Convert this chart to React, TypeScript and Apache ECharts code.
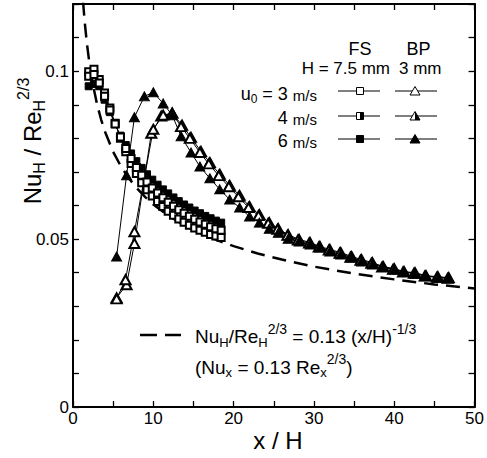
import React, { useEffect, useRef } from 'react';
import * as echarts from 'echarts';

// ---------- data ----------
const fsX = [1.95, 2.61, 3.27, 3.93, 4.59, 5.25, 5.91, 6.57, 7.23, 7.89, 8.55, 9.21, 9.87, 10.53, 11.19, 11.85, 12.51, 13.17, 13.83, 14.49, 15.15, 15.81, 16.47, 17.13, 17.79, 18.45];
const fs3Y = [0.0998, 0.1006, 0.0975, 0.0935, 0.089, 0.0845, 0.08, 0.076, 0.0725, 0.0695, 0.0668, 0.0647, 0.0628, 0.0612, 0.0597, 0.0583, 0.0571, 0.056, 0.055, 0.0541, 0.0533, 0.0526, 0.052, 0.0514, 0.0509, 0.0505];
const fs4Y = [0.0985, 0.099, 0.0965, 0.0925, 0.0884, 0.0843, 0.0804, 0.077, 0.074, 0.0713, 0.069, 0.067, 0.0652, 0.0637, 0.0623, 0.061, 0.0598, 0.0587, 0.0577, 0.0568, 0.0559, 0.0551, 0.0544, 0.0537, 0.0531, 0.0526];
const fs6Y = [0.0955, 0.0962, 0.0955, 0.0915, 0.0878, 0.0842, 0.0808, 0.078, 0.0755, 0.0732, 0.0712, 0.0693, 0.0677, 0.0662, 0.0648, 0.0636, 0.0624, 0.0613, 0.0603, 0.0594, 0.0585, 0.0577, 0.0569, 0.0562, 0.0555, 0.0549];

const bp3X = [5.43, 6.67, 7.65, 9.75, 10.99, 12.35, 13.58, 14.69, 15.93, 17.04, 18.27, 19.51, 20.74, 21.98, 23.21, 24.44, 25.56, 26.79, 28.15, 29.51, 30.74, 31.98, 33.33, 34.69, 35.93, 37.28, 38.64, 40.0, 41.23, 42.59, 43.95, 45.43, 46.79];
const bp3Y = [0.0325, 0.0364, 0.0487, 0.0815, 0.0866, 0.0875, 0.0839, 0.0803, 0.0761, 0.0728, 0.0693, 0.066, 0.063, 0.0597, 0.0573, 0.0549, 0.0531, 0.0513, 0.0499, 0.049, 0.0478, 0.0469, 0.046, 0.0448, 0.0439, 0.043, 0.0418, 0.0412, 0.0403, 0.04, 0.0391, 0.0388, 0.0385];

const bp4X = [5.43, 6.54, 7.65, 10.0, 11.23, 12.35, 13.45, 14.55, 15.8, 16.9, 18.15, 19.4, 20.6, 21.85, 23.1, 24.3, 25.45, 26.7, 28.0, 29.4, 30.6, 31.85, 33.2, 34.55, 35.8, 37.15, 38.5, 39.85, 41.1, 42.45, 43.8, 45.3, 46.65];
const bp4Y = [0.0322, 0.0379, 0.0522, 0.0827, 0.0869, 0.0875, 0.0835, 0.08, 0.0758, 0.0724, 0.0689, 0.0656, 0.0626, 0.0594, 0.057, 0.0547, 0.0529, 0.0511, 0.0497, 0.0488, 0.0476, 0.0467, 0.0458, 0.0446, 0.0437, 0.0428, 0.0417, 0.041, 0.0402, 0.0398, 0.039, 0.0386, 0.0383];

const bp6X = [5.43, 6.67, 7.65, 8.89, 10.0, 11.23, 12.35, 13.46, 14.69, 15.8, 17.04, 18.27, 19.51, 20.74, 21.98, 23.21, 24.44, 25.56, 26.79, 28.15, 29.51, 30.74, 31.98, 33.33, 34.69, 35.93, 37.28, 38.64, 40.0, 41.23, 42.59, 43.95, 45.43, 46.79];
const bp6Y = [0.0448, 0.069, 0.0863, 0.0925, 0.0937, 0.0904, 0.0869, 0.0806, 0.0758, 0.0716, 0.0681, 0.0648, 0.0618, 0.0594, 0.0567, 0.0549, 0.0531, 0.0519, 0.0501, 0.0493, 0.0484, 0.0475, 0.0463, 0.0454, 0.0445, 0.0433, 0.0424, 0.0418, 0.0409, 0.0403, 0.0397, 0.0391, 0.0385, 0.0385];

const fitX = [1.25, 1.5, 1.75, 2, 2.5, 3, 3.5, 4, 5, 6, 7, 8, 9, 10, 12, 14, 16, 18, 20, 23, 26, 30, 35, 40, 45, 50];
const fitY = [0.1207, 0.1136, 0.1079, 0.1032, 0.0958, 0.0901, 0.0856, 0.0819, 0.076, 0.0715, 0.068, 0.065, 0.0625, 0.0603, 0.0568, 0.0539, 0.0516, 0.0496, 0.0479, 0.0457, 0.0439, 0.0418, 0.0397, 0.038, 0.0365, 0.0353];

const xTickLabels: Record<number, string> = { 0: '0', 10: '10', 20: '20', 30: '30', 40: '40', 50: '50' };
const yTickLabels: Record<number, string> = { 0: '0', 5: '0.05', 10: '0.1' };

// ---------- helpers ----------
const FONT = '"Liberation Sans", Arial, Helvetica, sans-serif';
const pairs = (xs: number[], ys: number[]) => xs.map((x, i) => [x, ys[i]]);
const HALF_RECT = 'path://M0 0 L0 10 L0 0 Z M5 0 L10 0 L10 10 L5 10 Z';
const HALF_TRI = 'path://M0 10 L5 0 L0 10 Z M5 0 L10 10 L5 10 Z';
const SQ = 7;
const TRI: [number, number] = [10, 9];

function lineSeries(data: number[][], symbol: string, size: any) {
  return {
    type: 'line',
    data,
    symbol,
    symbolSize: size,
    showAllSymbol: true,
    lineStyle: { color: '#000', width: 1 },
    itemStyle: { color: '#000', borderColor: '#000', borderWidth: 1 },
    emphasis: { disabled: true },
    silent: true,
  };
}
function overlay(data: number[][], symbol: string, size: any) {
  return {
    type: 'scatter',
    data,
    symbol,
    symbolSize: size,
    itemStyle: { color: '#000', borderWidth: 0 },
    emphasis: { disabled: true },
    silent: true,
  };
}

function rt(size: number, extra: any = {}) {
  return { fontSize: size, fontFamily: FONT, fill: '#000', verticalAlign: 'middle', ...extra };
}

function textEl(x: number, y: number, text: string, size: number, align: string, rich?: any, rotation = 0) {
  return {
    type: 'text',
    x,
    y,
    rotation,
    silent: true,
    z: 100,
    style: {
      text,
      fontSize: size,
      fontFamily: FONT,
      fill: '#000',
      align,
      verticalAlign: 'middle',
      textAlign: align,
      textVerticalAlign: 'middle',
      rich,
    },
  };
}

function legendGraphics() {
  const els: any[] = [];
  const rows = [91, 116, 139];
  const fsC = 360;
  const bpC = 415;
  rows.forEach((y, i) => {
    els.push({ type: 'line', shape: { x1: 338, y1: y, x2: 380, y2: y }, style: { stroke: '#000', lineWidth: 1 }, z: 100, silent: true });
    els.push({ type: 'line', shape: { x1: 395, y1: y, x2: 437, y2: y }, style: { stroke: '#000', lineWidth: 1 }, z: 100, silent: true });
    els.push({
      type: 'rect',
      shape: { x: fsC - SQ / 2, y: y - SQ / 2, width: SQ, height: SQ },
      style: { fill: i === 2 ? '#000' : '#fff', stroke: '#000', lineWidth: 1 },
      z: 101,
      silent: true,
    });
    if (i === 1) {
      els.push({ type: 'rect', shape: { x: fsC, y: y - SQ / 2, width: SQ / 2, height: SQ }, style: { fill: '#000' }, z: 102, silent: true });
    }
    const top = y - 4.5;
    const bot = y + 4;
    els.push({
      type: 'polygon',
      shape: { points: [[bpC, top], [bpC + 5, bot], [bpC - 5, bot]] },
      style: { fill: i === 2 ? '#000' : '#fff', stroke: '#000', lineWidth: 1 },
      z: 101,
      silent: true,
    });
    if (i === 1) {
      els.push({ type: 'polygon', shape: { points: [[bpC, top], [bpC + 5, bot], [bpC, bot]] }, style: { fill: '#000' }, z: 102, silent: true });
    }
  });

  els.push(textEl(360, 48.5, 'FS', 18, 'center'));
  els.push(textEl(418.5, 48.5, 'BP', 18, 'center'));
  els.push(textEl(390, 68.5, 'H = 7.5 mm', 17, 'right'));
  els.push(textEl(399, 68.5, '3 mm', 17, 'left'));

  const legRich = {
    a: rt(18),
    s: rt(12, { padding: [10, 0, 0, 0] }),
    m: rt(15, { padding: [2, 0, 0, 0] }),
  };
  els.push(textEl(317, 94, '{a|u}{s|0}{a| = 3 }{m|m/s}', 18, 'right', legRich));
  els.push(textEl(317, 118, '{a|4 }{m|m/s}', 18, 'right', legRich));
  els.push(textEl(317, 141, '{a|6 }{m|m/s}', 18, 'right', legRich));

  els.push({
    type: 'line',
    shape: { x1: 140, y1: 335, x2: 181, y2: 335 },
    style: { stroke: '#000', lineWidth: 2.5, lineDash: [17, 8] },
    z: 100,
    silent: true,
  });
  const annRich = {
    b: rt(19),
    s: rt(13, { padding: [11, 0, 0, 0] }),
    p: rt(14, { padding: [0, 0, 16, 0] }),
  };
  els.push(textEl(195, 336.5, '{b|Nu}{s|H}{b|/Re}{s|H}{p|2/3}{b| = 0.13 (x/H)}{p|-1/3}', 19, 'left', annRich));
  els.push(textEl(195, 367, '{b|(Nu}{s|x}{b| = 0.13 Re}{s|x}{p|2/3}{b|)}', 19, 'left', annRich));

  const yRich = {
    b: rt(24),
    s: rt(16, { padding: [15, 0, 0, 0] }),
    p: rt(16, { padding: [0, 0, 18, 0] }),
  };
  els.push(textEl(32, 141, '{b|Nu}{s|H}{b| / Re}{s|H}{p|2/3}', 24, 'center', yRich, Math.PI / 2));
  els.push(textEl(278, 440, 'x / H', 24, 'center'));
  return els;
}

export default function App() {
  const ref = useRef<HTMLDivElement>(null);
  useEffect(() => {
    document.body.style.margin = '0';
    if (!ref.current) return;
    const chart = echarts.init(ref.current, null, { renderer: 'svg' });

    const axisLine = { show: true, onZero: false, lineStyle: { color: '#000', width: 2 } };
    const axisTick = { show: true, inside: true, length: 6, lineStyle: { color: '#000', width: 1.3 } };

    const xBase = {
      type: 'value',
      min: 0,
      max: 50,
      interval: 5,
      axisLine,
      axisTick,
      splitLine: { show: false },
    };
    const yBase = {
      type: 'value',
      min: 0,
      max: 0.12,
      interval: 0.01,
      axisLine,
      axisTick,
      splitLine: { show: false },
    };

    chart.setOption({
      animation: false,
      backgroundColor: '#fff',
      textStyle: { fontFamily: FONT, color: '#000' },
      grid: { left: 73, right: 9, top: 4, bottom: 51 },
      xAxis: [
        {
          ...xBase,
          position: 'bottom',
          axisLabel: {
            color: '#000',
            fontSize: 17,
            fontFamily: FONT,
            margin: 3,
            formatter: (v: number) => xTickLabels[Math.round(v)] ?? '',
          },
        },
        { ...xBase, position: 'top', axisLabel: { show: false } },
      ],
      yAxis: [
        {
          ...yBase,
          position: 'left',
          axisLabel: {
            color: '#000',
            fontSize: 17,
            fontFamily: FONT,
            margin: 4,
            formatter: (v: number) => yTickLabels[Math.round(v * 100)] ?? '',
          },
        },
        { ...yBase, position: 'right', axisLabel: { show: false } },
      ],
      series: [
        {
          type: 'line',
          data: pairs(fitX, fitY),
          showSymbol: false,
          lineStyle: { color: '#000', width: 2.5, type: [14, 8] },
          silent: true,
          emphasis: { disabled: true },
        },
        lineSeries(pairs(bp3X, bp3Y), 'emptyTriangle', TRI),
        lineSeries(pairs(bp4X, bp4Y), 'emptyTriangle', TRI),
        overlay(pairs(bp4X, bp4Y), HALF_TRI, TRI),
        lineSeries(pairs(bp6X, bp6Y), 'triangle', TRI),
        lineSeries(pairs(fsX, fs6Y), 'rect', SQ),
        lineSeries(pairs(fsX, fs3Y), 'emptyRect', SQ),
        lineSeries(pairs(fsX, fs4Y), 'emptyRect', SQ),
        overlay(pairs(fsX, fs4Y), HALF_RECT, SQ),
      ],
      graphic: legendGraphics(),
    });

    return () => chart.dispose();
  }, []);

  return <div ref={ref} style={{ width: 487, height: 458 }} />;
}
